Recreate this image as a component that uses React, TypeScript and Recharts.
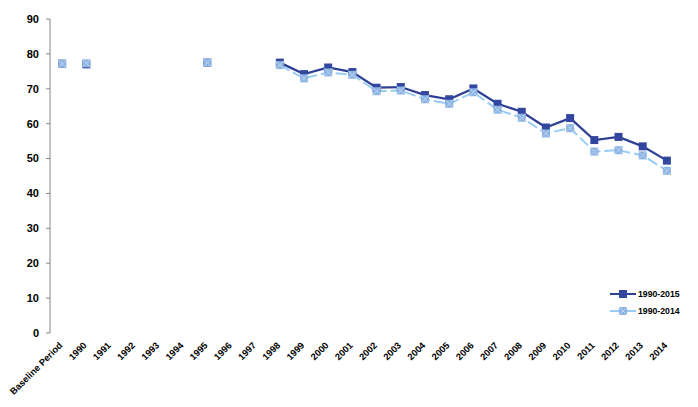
import React from "react";
import { LineChart, Line, XAxis, YAxis, Legend } from "recharts";

const years = [
  "Baseline Period", "1990", "1991", "1992", "1993", "1994", "1995", "1996", "1997",
  "1998", "1999", "2000", "2001", "2002", "2003", "2004", "2005", "2006",
  "2007", "2008", "2009", "2010", "2011", "2012", "2013", "2014",
];

// 1990-2015 series (baseline period kept apart, it is not joined to the line)
const s2015: (number | null)[] = [
  null, 77.0, null, null, null, null, 77.5, null, null,
  77.5, 74.2, 76.1, 74.8, 70.3, 70.5, 68.2, 67.0, 70.1,
  65.7, 63.4, 58.9, 61.6, 55.3, 56.2, 53.5, 49.4,
];

// 1990-2014 series
const s2014: (number | null)[] = [
  null, 77.3, null, null, null, null, 77.5, null, null,
  76.8, 73.0, 74.7, 74.0, 69.3, 69.5, 67.0, 65.7, 69.0,
  64.0, 61.7, 57.2, 58.7, 52.0, 52.4, 50.9, 46.5,
];

// baseline period markers
const base2015: (number | null)[] = [77.2, ...Array(25).fill(null)];
const base2014: (number | null)[] = [77.2, ...Array(25).fill(null)];

const yTicks = [0, 10, 20, 30, 40, 50, 60, 70, 80, 90];

const data = years.map((y, i) => ({
  idx: i,
  year: y,
  s2015: s2015[i],
  s2014: s2014[i],
  b2015: base2015[i],
  b2014: base2014[i],
}));

const catTicks = years.map((_, i) => i);
const gridTicks = [...years.map((_, i) => i - 0.5), years.length - 0.5];

const FONT = "'Liberation Sans', Arial, sans-serif";
const DARK = "#2E3F96";
const DARK_MARK = "#3346A0";
const LIGHT = "#99CCF5";
const LIGHT_MARK = "#8DB3E2";
const AXIS = "#868686";

const DarkDot = (p: any) => {
  if (p.cy == null || p.value == null) return null;
  return <rect x={p.cx - 4} y={p.cy - 4} width={8} height={8} fill={DARK_MARK} />;
};

const LightDot = (p: any) => {
  if (p.cy == null || p.value == null) return null;
  return (
    <g>
      <rect x={p.cx - 4} y={p.cy - 4} width={8} height={8} fill={LIGHT_MARK} />
      <line x1={p.cx - 4} y1={p.cy - 4} x2={p.cx + 4} y2={p.cy + 4} stroke="#BCD6F2" strokeWidth={1} />
      <line x1={p.cx - 4} y1={p.cy + 4} x2={p.cx + 4} y2={p.cy - 4} stroke="#BCD6F2" strokeWidth={1} />
    </g>
  );
};

const YearTick = (p: any) => {
  const label = years[p.payload.value];
  const ax = p.x + 1;
  const ay = p.y + 13;
  return (
    <text
      x={ax}
      y={ay}
      transform={`rotate(-45, ${ax}, ${ay})`}
      textAnchor="end"
      fontFamily={FONT}
      fontWeight="bold"
      fontSize={9.3}
      fill="#000"
    >
      {label}
    </text>
  );
};

const LegendBox = () => (
  <svg width={90} height={36}>
    <line x1={2} y1={8} x2={28} y2={8} stroke={DARK} strokeWidth={2} />
    <rect x={11} y={4} width={8} height={8} fill={DARK_MARK} />
    <text x={30} y={11} fontFamily={FONT} fontWeight="bold" fontSize={8.7} fill="#000">1990-2015</text>
    <line x1={2} y1={25} x2={28} y2={25} stroke={LIGHT} strokeWidth={2} strokeDasharray="11 4" />
    <rect x={11} y={21} width={8} height={8} fill={LIGHT_MARK} />
    <line x1={11} y1={21} x2={19} y2={29} stroke="#BCD6F2" />
    <line x1={11} y1={29} x2={19} y2={21} stroke="#BCD6F2" />
    <text x={30} y={28} fontFamily={FONT} fontWeight="bold" fontSize={8.7} fill="#000">1990-2014</text>
  </svg>
);

export default function App() {
  return (
    <div style={{ position: "absolute", left: 0, top: 0, width: 698, height: 407, background: "#fff" }}>
      <LineChart width={698} height={407} data={data} margin={{ top: 19, right: 19, left: 0, bottom: 0 }}>
        <XAxis
          xAxisId="grid"
          type="number"
          dataKey="idx"
          domain={[-0.5, years.length - 0.5]}
          ticks={gridTicks}
          interval={0}
          height={0}
          tick={() => <g />}
          tickSize={4}
          axisLine={{ stroke: AXIS }}
          tickLine={{ stroke: AXIS }}
        />
        <XAxis
          xAxisId="cat"
          type="number"
          dataKey="idx"
          domain={[-0.5, years.length - 0.5]}
          ticks={catTicks}
          interval={0}
          height={74}
          axisLine={false}
          tickLine={false}
          tickSize={0}
          tickMargin={0}
          tick={<YearTick />}
        />
        <YAxis
          domain={[0, 90]}
          ticks={yTicks}
          interval={0}
          width={50}
          tickSize={4}
          tickMargin={7}
          axisLine={{ stroke: AXIS }}
          tickLine={{ stroke: AXIS }}
          tick={{ fontFamily: FONT, fontWeight: "bold", fontSize: 11, fill: "#000" }}
        />
        <Legend
          layout="vertical"
          align="center"
          verticalAlign="middle"
          content={() => <LegendBox />}
          wrapperStyle={{ top: 286, left: 608, width: 90, height: 36 }}
        />
        <Line
          xAxisId="cat"
          dataKey="s2015"
          name="1990-2015"
          stroke={DARK}
          strokeWidth={2.25}
          dot={<DarkDot />}
          activeDot={false}
          isAnimationActive={false}
        />
        <Line
          xAxisId="cat"
          dataKey="b2015"
          stroke="none"
          legendType="none"
          dot={<DarkDot />}
          activeDot={false}
          isAnimationActive={false}
        />
        <Line
          xAxisId="cat"
          dataKey="s2014"
          name="1990-2014"
          stroke={LIGHT}
          strokeWidth={2}
          strokeDasharray="11 4"
          dot={<LightDot />}
          activeDot={false}
          isAnimationActive={false}
        />
        <Line
          xAxisId="cat"
          dataKey="b2014"
          stroke="none"
          legendType="none"
          dot={<LightDot />}
          activeDot={false}
          isAnimationActive={false}
        />
      </LineChart>
    </div>
  );
}
